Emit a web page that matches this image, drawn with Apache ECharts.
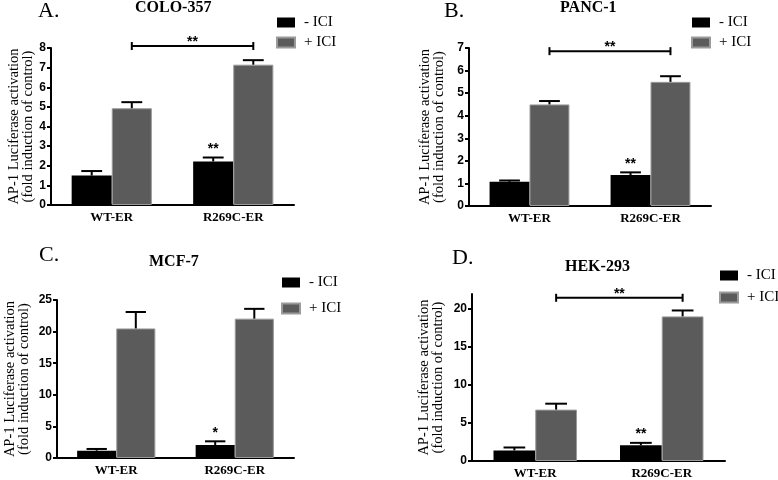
<!DOCTYPE html>
<html>
<head>
<meta charset="utf-8">
<script src="https://cdn.jsdelivr.net/npm/echarts@6/dist/echarts.min.js"></script>
<style>html,body{margin:0;padding:0;background:#fff}#c{width:778px;height:480px}</style>
</head>
<body>
<div id="c"></div>
<script>
// ---------- data ----------
const categories = ['WT-ER', 'R269C-ER'];
const seriesNames = ['- ICI', '+ ICI'];

// A. COLO-357
const coloMinus = [1.5, 2.22];
const coloMinusErr = [0.23, 0.2];
const coloPlus = [4.93, 7.15];
const coloPlusErr = [0.31, 0.23];
const coloStars = ['', '**'];
const coloBracket = [8.1];
const coloTicks = [0, 1, 2, 3, 4, 5, 6, 7, 8];

// B. PANC-1
const pancMinus = [1.07, 1.37];
const pancMinusErr = [0.06, 0.12];
const pancPlus = [4.5, 5.5];
const pancPlusErr = [0.15, 0.25];
const pancStars = ['', '**'];
const pancBracket = [6.86];
const pancTicks = [0, 1, 2, 3, 4, 5, 6, 7];

// C. MCF-7
const mcfMinus = [1.15, 2.06];
const mcfMinusErr = [0.28, 0.58];
const mcfPlus = [20.5, 22.05];
const mcfPlusErr = [2.6, 1.55];
const mcfStars = ['', '*'];
const mcfTicks = [0, 5, 10, 15, 20, 25];

// D. HEK-293
const hekMinus = [1.39, 2.08];
const hekMinusErr = [0.39, 0.31];
const hekPlus = [6.77, 19.05];
const hekPlusErr = [0.78, 0.78];
const hekStars = ['', '**'];
const hekBracket = [21.5];
const hekTicks = [0, 5, 10, 15, 20];

const panels = [
  {letter: 'A.', title: 'COLO-357', minus: coloMinus, minusErr: coloMinusErr, plus: coloPlus, plusErr: coloPlusErr, stars: coloStars, bracket: coloBracket, ticks: coloTicks, max: 8, interval: 1},
  {letter: 'B.', title: 'PANC-1', minus: pancMinus, minusErr: pancMinusErr, plus: pancPlus, plusErr: pancPlusErr, stars: pancStars, bracket: pancBracket, ticks: pancTicks, max: 7, interval: 1},
  {letter: 'C.', title: 'MCF-7', minus: mcfMinus, minusErr: mcfMinusErr, plus: mcfPlus, plusErr: mcfPlusErr, stars: mcfStars, bracket: null, ticks: mcfTicks, max: 25, interval: 5},
  {letter: 'D.', title: 'HEK-293', minus: hekMinus, minusErr: hekMinusErr, plus: hekPlus, plusErr: hekPlusErr, stars: hekStars, bracket: hekBracket, ticks: hekTicks, max: 22, interval: 5}
];

// ---------- layout ----------
const layout = [
  {grid: {left: 51, top: 48, width: 243, height: 157}, nameGap: 14, legend: {left: 276, top: 15, itemGap: 5},
   letterPos: {left: 38, top: 0}, titlePos: {left: 135, top: 0}},
  {grid: {left: 469, top: 48, width: 242, height: 158}, nameGap: 23, legend: {left: 691, top: 15, itemGap: 5},
   letterPos: {left: 444, top: 0}, titlePos: {left: 560, top: 0}},
  {grid: {left: 57, top: 300, width: 237, height: 158}, nameGap: 26, legend: {left: 281, top: 275, itemGap: 11},
   letterPos: {left: 39, top: 244}, titlePos: {left: 149, top: 254}},
  {grid: {left: 472, top: 294, width: 253, height: 169}, nameGap: 26.5, legend: {left: 719, top: 268, itemGap: 7},
   letterPos: {left: 452, top: 247}, titlePos: {left: 565, top: 259}}
];

const GAP = 0.34;
const SERIF = 'Liberation Serif';
const SANS = 'Liberation Sans';
const BLACK = '#000000';
const GRAY = '#5b5b5b';

const option = {
  animation: false,
  backgroundColor: '#ffffff',
  title: [], grid: [], xAxis: [], yAxis: [], legend: [], series: []
};

panels.forEach((p, gi) => {
  const L = layout[gi];
  option.title.push({text: p.letter, left: L.letterPos.left, top: L.letterPos.top, padding: 0,
    textStyle: {fontFamily: SERIF, fontSize: 22, fontWeight: 'normal', color: '#000'}});
  option.title.push({text: p.title, left: L.titlePos.left, top: L.titlePos.top, padding: 0,
    textStyle: {fontFamily: SERIF, fontSize: 16, fontWeight: 'bold', color: '#000'}});
  option.grid.push(Object.assign({containLabel: false}, L.grid));
  option.xAxis.push({
    type: 'category', gridIndex: gi, data: categories,
    axisLine: {lineStyle: {color: '#000', width: 2}},
    axisTick: {alignWithLabel: true, length: 4, lineStyle: {color: '#000', width: 2}},
    axisLabel: {fontFamily: SERIF, fontWeight: 'bold', fontSize: 13, color: '#000', margin: 6}
  });
  option.yAxis.push({
    type: 'value', gridIndex: gi, min: 0, max: p.max, interval: p.interval,
    name: 'AP-1 Luciferase activation\n(fold induction of control)',
    nameLocation: 'middle', nameGap: L.nameGap,
    nameTextStyle: {fontFamily: SERIF, fontSize: 14.5, lineHeight: 14, color: '#000'},
    axisLine: {show: true, lineStyle: {color: '#000', width: 2}},
    axisTick: {show: true, length: 4, lineStyle: {color: '#000', width: 2}, customValues: p.ticks},
    axisLabel: {fontFamily: SANS, fontWeight: 'bold', fontSize: 12, color: '#000', margin: 5, customValues: p.ticks},
    splitLine: {show: false}
  });
  option.legend.push({
    orient: 'vertical', left: L.legend.left, top: L.legend.top, itemGap: L.legend.itemGap,
    itemWidth: 18, itemHeight: 10, icon: 'rect', padding: 0,
    data: seriesNames,
    textStyle: {fontFamily: SERIF, fontSize: 15, color: '#000', padding: [0, 0, 0, 4]}
  });
  option.series.push({
    name: seriesNames[0], type: 'bar', xAxisIndex: gi, yAxisIndex: gi,
    data: p.minus, barGap: '0%', barCategoryGap: (GAP * 100) + '%',
    itemStyle: {color: BLACK, borderColor: '#000', borderWidth: 0}
  });
  option.series.push({
    name: seriesNames[1], type: 'bar', xAxisIndex: gi, yAxisIndex: gi,
    data: p.plus, barGap: '0%', barCategoryGap: (GAP * 100) + '%',
    itemStyle: {color: GRAY, borderColor: '#9a9a9a', borderWidth: 1}
  });
  const errData = [];
  categories.forEach((c, i) => {
    errData.push([i, p.minus[i], p.minusErr[i], 0]);
    errData.push([i, p.plus[i], p.plusErr[i], 1]);
  });
  const stars = p.stars;
  option.series.push({
    type: 'custom', xAxisIndex: gi, yAxisIndex: gi, z: 5,
    encode: {x: 0, y: 1},
    data: errData,
    renderItem: function (params, api) {
      const cat = api.value(0), mean = api.value(1), err = api.value(2), side = api.value(3);
      const base = api.coord([cat, mean]);
      const top = api.coord([cat, mean + err]);
      const band = api.size([1, 0])[0];
      const bw = band * (1 - GAP) / 2;
      const x = base[0] + (side === 0 ? -bw / 2 : bw / 2);
      const capHalf = bw * 0.26;
      const children = [
        {type: 'line', shape: {x1: x, y1: base[1], x2: x, y2: top[1]}, style: {stroke: '#000', lineWidth: 2}},
        {type: 'line', shape: {x1: x - capHalf, y1: top[1], x2: x + capHalf, y2: top[1]}, style: {stroke: '#000', lineWidth: 2}}
      ];
      if (side === 0 && stars[cat]) {
        children.push({type: 'text', style: {text: stars[cat], x: x, y: top[1] - 8.5, align: 'center', verticalAlign: 'middle',
          font: 'bold 14px "Liberation Sans"', fill: '#000'}});
      }
      return {type: 'group', children: children};
    }
  });
  if (p.bracket) {
    option.series.push({
      type: 'custom', xAxisIndex: gi, yAxisIndex: gi, z: 5,
      encode: {x: [0, 1], y: 2},
      data: [[0, 1, p.bracket[0]]],
      renderItem: function (params, api) {
        const y = api.value(2);
        const a = api.coord([api.value(0), y]);
        const b = api.coord([api.value(1), y]);
        const band = api.size([1, 0])[0];
        const bw = band * (1 - GAP) / 2;
        const x1 = a[0] + bw / 2, x2 = b[0] + bw / 2, yy = a[1];
        return {type: 'group', children: [
          {type: 'line', shape: {x1: x1, y1: yy, x2: x2, y2: yy}, style: {stroke: '#000', lineWidth: 2}},
          {type: 'line', shape: {x1: x1, y1: yy - 4, x2: x1, y2: yy + 4}, style: {stroke: '#000', lineWidth: 2}},
          {type: 'line', shape: {x1: x2, y1: yy - 4, x2: x2, y2: yy + 4}, style: {stroke: '#000', lineWidth: 2}},
          {type: 'text', style: {text: '**', x: (x1 + x2) / 2, y: yy - 4, align: 'center', verticalAlign: 'middle',
            font: 'bold 14px "Liberation Sans"', fill: '#000'}}
        ]};
      }
    });
  }
});

const chart = echarts.init(document.getElementById('c'), null, {renderer: 'canvas'});
chart.setOption(option);
</script>
</body>
</html>
